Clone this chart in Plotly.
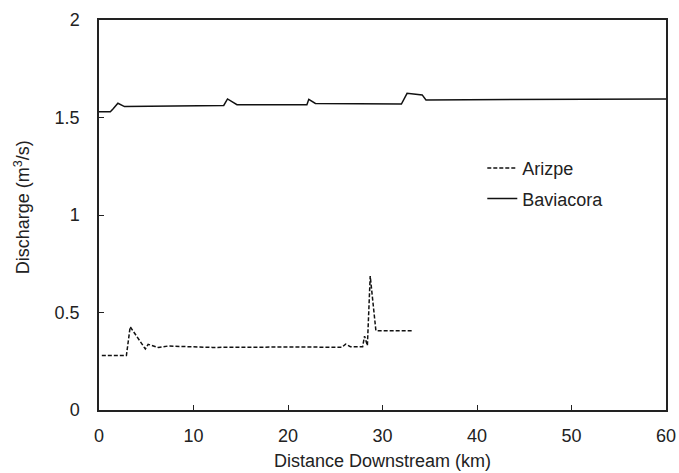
import plotly.graph_objects as go

# Arizpe (dashed)
arizpe_km = [0.3, 2.9, 3.3, 4.9, 5.2, 6.3, 7.3, 12.0, 20.2, 25.7, 26.1, 26.6, 27.9, 28.1, 28.4, 28.7, 29.3, 33.1]
arizpe_q = [0.279, 0.279, 0.427, 0.313, 0.337, 0.320, 0.328, 0.321, 0.323, 0.322, 0.338, 0.325, 0.325, 0.379, 0.33, 0.687, 0.407, 0.407]

# Baviacora (solid)
bav_km = [0.0, 1.2, 1.5, 2.0, 2.7, 8.0, 13.2, 13.6, 14.6, 22.0, 22.2, 22.9, 30.6, 32.0, 32.6, 34.2, 34.6, 48.6, 54.0, 60.0]
bav_q = [1.530, 1.530, 1.545, 1.573, 1.556, 1.559, 1.562, 1.595, 1.566, 1.566, 1.593, 1.572, 1.570, 1.569, 1.624, 1.616, 1.590, 1.592, 1.596, 1.595]

x_ticks = [0, 10, 20, 30, 40, 50, 60]
y_ticks = [0, 0.5, 1, 1.5, 2]
y_tick_text = ["0", "0.5", "1", "1.5", "2"]

x_title = "Distance Downstream (km)"
y_title = "Discharge (m<sup>3</sup>/s)"

FONT = "Liberation Sans, Arial, sans-serif"
TXT = "#222222"

fig = go.Figure()
fig.add_trace(go.Scatter(
    x=arizpe_km, y=arizpe_q, mode="lines", name="Arizpe", legendgroup="a",
    line=dict(color="#111111", width=1.5, dash="4px,2px"),
))
fig.add_trace(go.Scatter(
    x=bav_km, y=bav_q, mode="lines", name="Baviacora", legendgroup="b",
    line=dict(color="#111111", width=1.5),
))

fig.update_layout(
    width=679, height=473,
    margin=dict(l=99, r=13, t=20, b=63),
    paper_bgcolor="white", plot_bgcolor="white",
    font=dict(family=FONT, size=18, color=TXT),
    showlegend=True,
    legend=dict(
        x=0.676, y=0.667, xanchor="left", yanchor="top",
        bgcolor="rgba(0,0,0,0)", borderwidth=0,
        font=dict(family=FONT, size=18, color=TXT),
        tracegroupgap=4,
    ),
    annotations=[
        dict(text=x_title, xref="paper", yref="paper", x=0.5, y=-0.132,
             xanchor="center", yanchor="middle", showarrow=False,
             font=dict(family=FONT, size=18, color=TXT)),
        dict(text=y_title, xref="paper", yref="paper", x=-0.1358, y=0.52,
             xanchor="center", yanchor="middle", showarrow=False, textangle=-90,
             font=dict(family=FONT, size=18, color=TXT)),
    ],
)
fig.update_xaxes(
    range=[0, 60], tickvals=x_ticks, ticks="inside", ticklen=5, tickwidth=1,
    tickcolor="#222", showline=True, linecolor="#222", linewidth=1.5, mirror=True,
    showgrid=False, zeroline=False, ticklabelstandoff=9, automargin=False,
)
fig.update_yaxes(
    range=[0, 2], tickvals=y_ticks, ticktext=y_tick_text, ticks="inside", ticklen=5,
    tickwidth=1, tickcolor="#222", showline=True, linecolor="#222", linewidth=1.5,
    mirror=True, showgrid=False, zeroline=False, ticklabelstandoff=14, automargin=False,
)

fig.write_html("out.html")
